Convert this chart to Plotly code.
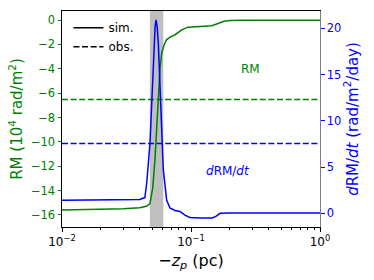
import plotly.graph_objects as go

# ---- data ----
rm_x = [0.01, 0.02, 0.03, 0.04, 0.045, 0.048, 0.0505, 0.0526, 0.0545, 0.0558, 0.0575,
        0.0593, 0.062, 0.0648, 0.07, 0.0752, 0.0847, 0.0948, 0.12, 0.145, 0.16, 0.18,
        0.2, 0.25, 0.4, 1.0]
rm_y = [-15.6, -15.55, -15.5, -15.42, -15.3, -15.1, -13.8, -11.4, -8.5, -5.9, -4.0,
        -2.7, -2.0, -1.6, -1.35, -1.2, -0.8, -0.58, -0.5, -0.46, -0.3, -0.1,
        -0.03, 0.0, 0.0, 0.0]

drm_x = [0.01, 0.03, 0.04, 0.0439, 0.0454, 0.0481, 0.0511, 0.0527, 0.0536, 0.0546,
         0.0558, 0.0593, 0.061, 0.0648, 0.0687, 0.075, 0.0822, 0.0898, 0.098, 0.12,
         0.146, 0.157, 0.168, 0.2, 1.0]
drm_y = [1.4, 1.42, 1.5, 1.7, 3.3, 7.6, 16.6, 20.2, 20.9, 20.2,
         18.4, 9.3, 4.7, 1.4, 0.57, 0.3, 0.2, -0.2, -0.45, -0.5,
         -0.5, -0.3, 0.0, 0.02, 0.02]

obs_rm = -6.52
obs_drm = 7.56
band_lo, band_hi = 0.048, 0.061
x_span = [0.01, 1.0]

x_ticks = [0.01, 0.1, 1.0]
x_ticktext = ["10<sup>−2</sup>", "10<sup>−1</sup>", "10<sup>0</sup>"]
x_minor = [m * d for d in (0.01, 0.1) for m in range(2, 10)]
rm_ticks = [0, -2, -4, -6, -8, -10, -12, -14, -16]
drm_ticks = [0, 5, 10, 15, 20]

GREEN = "#008000"
BLUE = "#0000ff"
FONT = "DejaVu Sans"

fig = go.Figure()
fig.add_vrect(x0=band_lo, x1=band_hi, fillcolor="rgba(128,128,128,0.5)",
              line_width=0, layer="below")

fig.add_trace(go.Scatter(x=rm_x, y=rm_y, mode="lines", line=dict(color=GREEN, width=1.5),
                         showlegend=False))
fig.add_trace(go.Scatter(x=x_span, y=[obs_rm, obs_rm], mode="lines",
                         line=dict(color=GREEN, width=1.5, dash="6px,2.6px"), showlegend=False))
fig.add_trace(go.Scatter(x=drm_x, y=drm_y, mode="lines", line=dict(color=BLUE, width=1.5),
                         yaxis="y2", showlegend=False))
fig.add_trace(go.Scatter(x=x_span, y=[obs_drm, obs_drm], mode="lines",
                         line=dict(color=BLUE, width=1.5, dash="6px,2.6px"), yaxis="y2",
                         showlegend=False))
# legend entries
fig.add_trace(go.Scatter(x=[None], y=[None], mode="lines", line=dict(color="black", width=1.5),
                         name="sim."))
fig.add_trace(go.Scatter(x=[None], y=[None], mode="lines",
                         line=dict(color="black", width=1.5, dash="6px,2.6px"), name="obs."))

fig.update_layout(
    width=374, height=280,
    margin=dict(l=62, r=54, t=11, b=53, autoexpand=False),
    plot_bgcolor="white", paper_bgcolor="white",
    font=dict(family=FONT, size=11, color="black"),
    legend=dict(x=0.025, y=0.99, xanchor="left", yanchor="top", bgcolor="rgba(0,0,0,0)",
                font=dict(size=12), tracegroupgap=0, itemwidth=30),
    xaxis=dict(type="log", range=[-2, 0], tickvals=x_ticks, ticktext=x_ticktext,
               automargin=False,
               ticks="outside", ticklen=3.5, tickwidth=0.8, tickcolor="black",
               showline=True, linecolor="black", linewidth=1, mirror=True,
               showgrid=False, zeroline=False, tickfont=dict(size=12),
               minor=dict(tickvals=x_minor, ticks="outside", ticklen=2, tickwidth=0.6,
                          tickcolor="black", showgrid=False),
               title=dict(text="−<i>z<sub>p</sub></i> (pc)", font=dict(size=16), standoff=6)),
    yaxis=dict(range=[-17, 0.75], tickvals=rm_ticks, ticktext=[str(v).replace("-", "−") for v in rm_ticks],
               automargin=False,
               ticks="outside", ticklen=3.5, tickwidth=0.8, tickcolor=GREEN,
               tickfont=dict(color=GREEN, size=11.5),
               showline=True, linecolor="black", linewidth=1, showgrid=False, zeroline=False,
               title=dict(text="RM (10<sup>4</sup> rad/m<sup>2</sup>)", font=dict(color=GREEN, size=15),
                          standoff=4)),
    yaxis2=dict(range=[-1.48, 21.87], overlaying="y", side="right", tickvals=drm_ticks,
                automargin=False,
                ticks="outside", ticklen=3.5, tickwidth=0.8, tickcolor=BLUE,
                tickfont=dict(color=BLUE, size=11.5),
                showline=True, linecolor="#808080", linewidth=1, showgrid=False, zeroline=False,
                title=dict(text="<i>d</i>RM/<i>dt</i> (rad/m<sup>2</sup>/day)",
                           font=dict(color=BLUE, size=15), standoff=6)),
    annotations=[
        dict(text="RM", x=0.775, y=0.773, xref="paper", yref="paper", showarrow=False,
             font=dict(color=GREEN, size=12)),
        dict(text="<i>d</i>RM/<i>dt</i>", x=0.736, y=0.218, xref="paper", yref="paper",
             showarrow=False, font=dict(color=BLUE, size=12)),
    ],
)

fig.write_html("out.html", config={"displayModeBar": False},
               post_script="document.body.style.margin='0';document.body.style.padding='0';")
